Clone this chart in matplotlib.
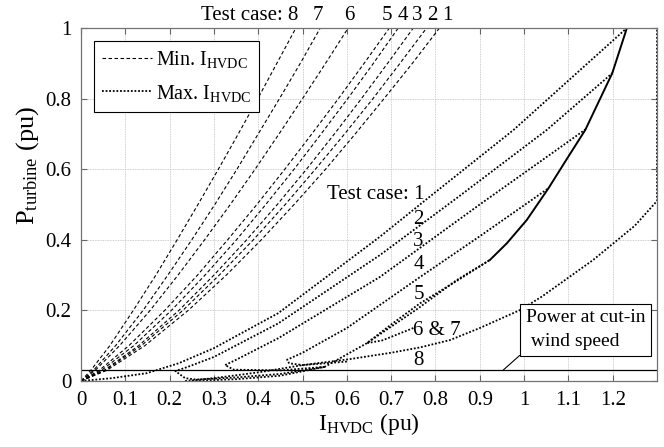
import matplotlib
matplotlib.use("Agg")
import matplotlib.pyplot as plt

# -------------------------
# Fonts
# -------------------------

plt.rcParams["font.family"] = ["Liberation Serif", "DejaVu Serif"]
plt.rcParams["mathtext.fontset"] = "custom"
plt.rcParams["mathtext.rm"] = "Liberation Serif"
plt.rcParams["mathtext.it"] = "Liberation Serif:italic"
plt.rcParams["font.size"] = 14.5

# -------------------------
# Data: Min. I_HVDC (dashed), P_turbine levels shared by all cases
# -------------------------

p_min = [0, 0.03, 0.1, 0.2, 0.3, 0.4, 0.5, 0.6, 0.7, 0.8, 0.9, 1.0]

i_min = {
    1: [0, 0.058, 0.144, 0.242, 0.328, 0.407, 0.481, 0.552, 0.619, 0.684, 0.748, 0.809],
    2: [0, 0.054, 0.136, 0.230, 0.312, 0.389, 0.461, 0.529, 0.595, 0.659, 0.720, 0.780],
    3: [0, 0.052, 0.130, 0.221, 0.300, 0.374, 0.443, 0.509, 0.572, 0.633, 0.692, 0.750],
    4: [0, 0.046, 0.119, 0.204, 0.280, 0.351, 0.417, 0.481, 0.542, 0.602, 0.660, 0.716],
    5: [0, 0.041, 0.108, 0.189, 0.263, 0.331, 0.397, 0.460, 0.521, 0.581, 0.639, 0.696],
    6: [0, 0.032, 0.087, 0.156, 0.219, 0.279, 0.337, 0.393, 0.447, 0.500, 0.552, 0.603],
    7: [0, 0.028, 0.078, 0.140, 0.196, 0.250, 0.302, 0.352, 0.400, 0.448, 0.495, 0.540],
    8: [0, 0.022, 0.065, 0.118, 0.169, 0.217, 0.264, 0.310, 0.355, 0.399, 0.442, 0.485],
}

# -------------------------
# Data: Max. I_HVDC (dotted)
# -------------------------

case1_i = [0, 0.07, 0.148, 0.22, 0.30, 0.445, 0.675, 0.78, 0.976, 1.232]
case1_p = [0, 0.008, 0.022, 0.05, 0.093, 0.192, 0.409, 0.515, 0.711, 1.0]

case2_i = [0.55, 0.45, 0.35, 0.26, 0.235, 0.213, 0.241, 0.30, 0.445, 0.675, 0.85, 1.051, 1.199]
case2_p = [0.04, 0.02, 0.01, 0.004, 0.008, 0.028, 0.04, 0.068, 0.163, 0.357, 0.52, 0.711, 0.872]

case3_i = [0.55, 0.45, 0.345, 0.325, 0.35, 0.445, 0.675, 0.90, 1.14]
case3_p = [0.04, 0.03, 0.032, 0.045, 0.06, 0.121, 0.295, 0.50, 0.714]

case4_i = [0.60, 0.50, 0.47, 0.465, 0.50, 0.60, 0.76, 0.90, 1.055]
case4_p = [0.055, 0.045, 0.05, 0.06, 0.08, 0.15, 0.29, 0.41, 0.546]

case5_i = [0.75, 0.68, 0.645, 0.70, 0.765, 0.85, 0.923]
case5_p = [0.15, 0.115, 0.107, 0.16, 0.22, 0.285, 0.343]

case67_i = [0.25, 0.35, 0.45, 0.55, 0.645, 0.76, 0.848, 0.923]
case67_p = [0.0, 0.005, 0.015, 0.04, 0.107, 0.205, 0.286, 0.343]

case8_i = [0.235, 0.30, 0.404, 0.50, 0.607, 0.70, 0.765, 0.833, 0.90, 0.991, 1.04, 1.156, 1.25, 1.30, 1.30]
case8_p = [0.0, 0.008, 0.025, 0.045, 0.062, 0.08, 0.095, 0.116, 0.150, 0.201, 0.239, 0.343, 0.44, 0.51, 1.0]

# solid limit curve
limit_i = [0.923, 0.961, 1.006, 1.055, 1.10, 1.138, 1.199, 1.232]
limit_p = [0.343, 0.39, 0.456, 0.546, 0.636, 0.711, 0.872, 1.0]

p_cutin = 0.031

max_curves = [
    (case1_i, case1_p),
    (case2_i, case2_p),
    (case3_i, case3_p),
    (case4_i, case4_p),
    (case5_i, case5_p),
    (case67_i, case67_p),
    (case8_i, case8_p),
]

# labels
top_labels = ["8", "7", "6", "5", "4", "3", "2", "1"]
top_label_x = [0.477, 0.534, 0.605, 0.691, 0.726, 0.758, 0.792, 0.826]

side_labels = ["2", "3", "4", "5", "6 & 7", "8"]
side_label_y = [0.458, 0.395, 0.331, 0.244, 0.144, 0.059]

# -------------------------
# Plot
# -------------------------

fig = plt.figure(figsize=(6.64, 4.47), dpi=100)
ax = fig.add_axes([0.122, 0.1477, 0.8675, 0.7897])

dash = (0, (3.2, 2.2))
dot = (0, (1, 1))

for k in range(1, 9):
    ax.plot(i_min[k], p_min, color="black", linestyle=dash, linewidth=0.8)

for ci, cp in max_curves:
    ax.plot(ci, cp, color="black", linestyle=dot, linewidth=1.3)

ax.plot(limit_i, limit_p, color="black", linewidth=1.4)

ax.axhline(p_cutin, color="black", linewidth=0.9)

# legend handles
h_min, = ax.plot([], [], color="black", linestyle=dash, linewidth=0.8)
h_max, = ax.plot([], [], color="black", linestyle=dot, linewidth=1.3)

leg = ax.legend(
    [h_min, h_max],
    [r"Min. $\mathrm{I_{HVDC}}$", r"Max. $\mathrm{I_{HVDC}}$"],
    loc="upper left",
    bbox_to_anchor=(0.022, 0.962),
    borderaxespad=0,
    fontsize=14.5,
    handlelength=2.5,
    handletextpad=0.2,
    labelspacing=0.6,
    borderpad=0.4,
    fancybox=False,
    framealpha=1,
    edgecolor="black",
)
leg.get_frame().set_linewidth(0.8)

# -------------------------
# Annotations
# -------------------------

ax.text(0.455, 1.008, "Test case:", ha="right", va="bottom", clip_on=False,
        fontsize=15)
for lab, x in zip(top_labels, top_label_x):
    ax.text(x, 1.008, lab, ha="center", va="bottom", clip_on=False, fontsize=15)

ax.text(0.775, 0.527, "Test case: 1", ha="right", va="center", fontsize=15)
for lab, y in zip(side_labels, side_label_y):
    ax.text(0.750, y, lab, ha="left", va="center", fontsize=15)

ax.annotate(
    "Power at cut-in\n wind speed",
    xy=(0.953, p_cutin),
    xytext=(1.004, 0.088),
    ha="left",
    va="bottom",
    fontsize=14,
    linespacing=1.5,
    bbox=dict(boxstyle="square,pad=0.3", fc="white", ec="black", lw=0.8),
    arrowprops=dict(arrowstyle="-", color="black", lw=0.8,
                    shrinkA=0, shrinkB=0, relpos=(0, 0)),
)

# -------------------------
# Formatting
# -------------------------

ax.set_xlim(0, 1.3)
ax.set_ylim(0, 1)

ax.set_xticks([0, 0.1, 0.2, 0.3, 0.4, 0.5, 0.6, 0.7, 0.8, 0.9, 1, 1.1, 1.2])
ax.set_xticklabels(["0", "0.1", "0.2", "0.3", "0.4", "0.5", "0.6", "0.7",
                    "0.8", "0.9", "1", "1.1", "1.2"])
ax.set_yticks([0, 0.2, 0.4, 0.6, 0.8, 1])
ax.set_yticklabels(["0", "0.2", "0.4", "0.6", "0.8", "1"])

ax.tick_params(direction="in", top=True, right=True, length=4,
               color="0.4", pad=7, labelsize=15)

ax.grid(True, color="0.75", linestyle=(0, (1, 1)), linewidth=0.6)
ax.set_axisbelow(True)

for s in ax.spines.values():
    s.set_color("0.45")
    s.set_linewidth(0.9)

ax.set_xlabel(r"$\mathrm{I_{HVDC}}$ (pu)", fontsize=17)
ax.set_ylabel(r"$\mathrm{P_{turbine}}$ (pu)", fontsize=19)
ax.xaxis.set_label_coords(0.5, -0.085)
ax.yaxis.set_label_coords(-0.07, 0.61)

fig.savefig("out.png", dpi=100)
